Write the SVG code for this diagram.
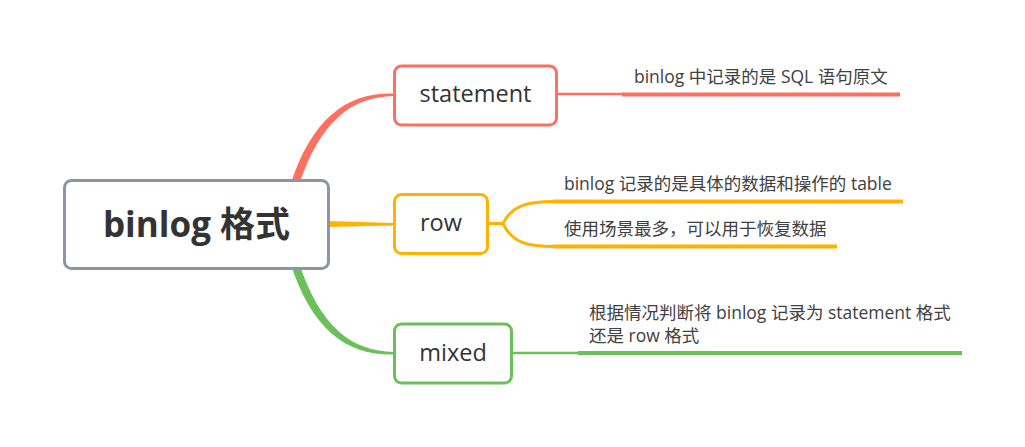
<svg xmlns="http://www.w3.org/2000/svg" width="1025" height="447" viewBox="0 0 1025 447">
<style>
.t{font-family:"Open Sans","Noto Sans CJK SC",sans-serif;fill:#333333}
.leaf{font-size:17.5px;fill:#404040}
.node{fill:#ffffff;stroke-width:3}
</style>
<rect width="1025" height="447" fill="#ffffff"/>
<g id="connectors">
<path d="M 290 186 C 312 117 348 92 394 93.5 L 394 96 C 352 97 320 120 298 188 Z" fill="#fd6f5f"/>
<path d="M 290 262 C 312 331 348 356 394 354.5 L 394 352 C 352 351 320 328 298 260 Z" fill="#6cc05a"/>
<path d="M 328 221 L 394 223 L 394 225.5 L 328 227 Z" fill="#ffb300"/>
<line x1="557" y1="94" x2="624" y2="94" stroke="#fd6f5f" stroke-width="2.5"/>
<line x1="622" y1="94.5" x2="900" y2="94.5" stroke="#fd6f5f" stroke-width="4"/>
<path d="M 487 223.5 L 503 223.5 C 512 205 528 201.5 555 201.5 M 503 223.5 C 512 243 528 246.5 555 246.5" fill="none" stroke="#ffb300" stroke-width="3"/>
<line x1="553" y1="201.5" x2="903" y2="201.5" stroke="#ffb300" stroke-width="4"/>
<line x1="553" y1="246.5" x2="837" y2="246.5" stroke="#ffb300" stroke-width="4"/>
<line x1="511" y1="353" x2="580" y2="353" stroke="#6cc05a" stroke-width="2.5"/>
<line x1="578" y1="353" x2="962" y2="353" stroke="#6cc05a" stroke-width="4"/>
</g>
<g id="root">
<rect class="node" x="64.5" y="180.5" width="264" height="88" rx="7" stroke="#8a96a8"/>
<text class="t" x="196.5" y="237" font-size="35" font-weight="bold" text-anchor="middle">binlog 格式</text>
</g>
<g id="statement">
<rect class="node" x="394.5" y="66" width="162" height="59" rx="7" stroke="#fd6f5f"/>
<text class="t" x="475.5" y="102" font-size="23.5" text-anchor="middle">statement</text>
</g>
<g id="row">
<rect class="node" x="394.5" y="194.5" width="93" height="59" rx="7" stroke="#ffb300"/>
<text class="t" x="441" y="231" font-size="23.5" text-anchor="middle">row</text>
</g>
<g id="mixed">
<rect class="node" x="394.5" y="324" width="117" height="59" rx="7" stroke="#6cc05a"/>
<text class="t" x="453" y="361" font-size="23.5" text-anchor="middle">mixed</text>
</g>
<g id="leaf-statement">
<text class="t leaf" x="634" y="83">binlog 中记录的是 SQL 语句原文</text>
</g>
<g id="leaf-row-1">
<text class="t leaf" x="564" y="190">binlog 记录的是具体的数据和操作的 table</text>
</g>
<g id="leaf-row-2">
<text class="t leaf" x="564" y="235">使用场景最多，可以用于恢复数据</text>
</g>
<g id="leaf-mixed">
<text class="t leaf" x="589" y="319">根据情况判断将 binlog 记录为 statement 格式</text>
<text class="t leaf" x="589" y="342">还是 row 格式</text>
</g>
</svg>
